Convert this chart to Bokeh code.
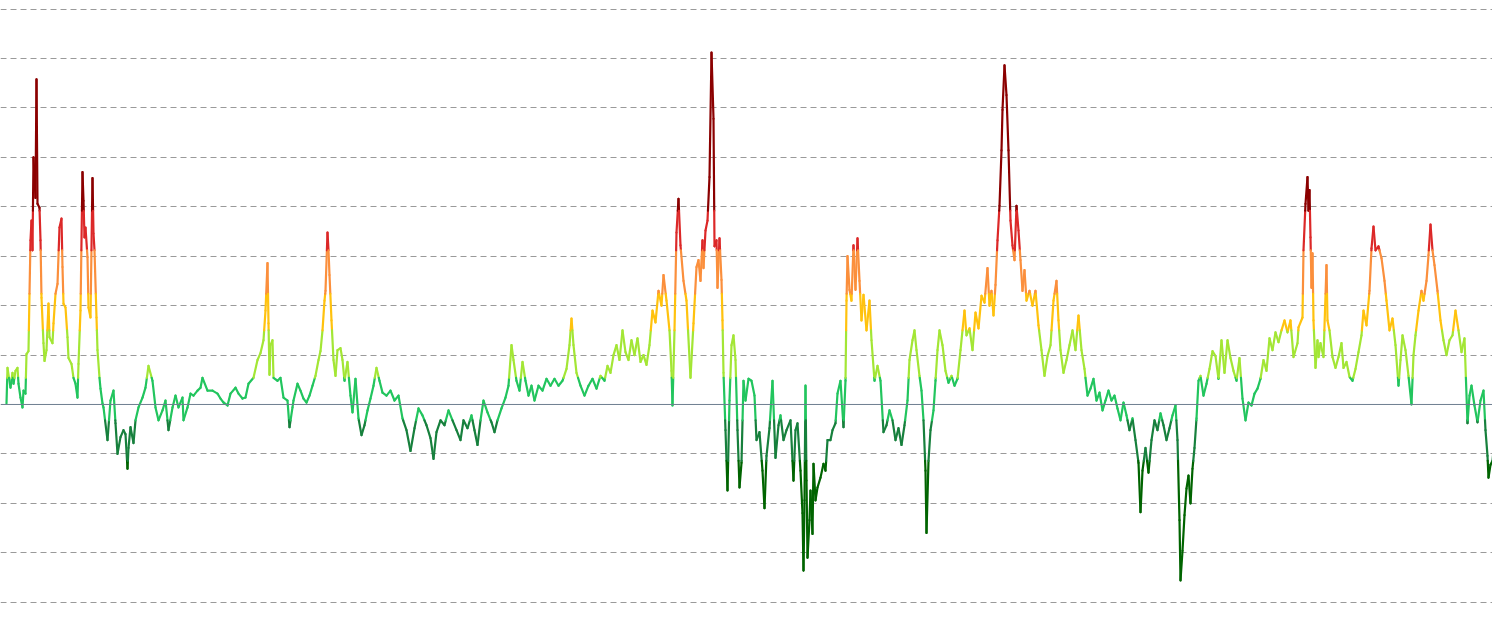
from bokeh.plotting import figure
from bokeh.models import Range1d, FixedTicker, Span, ColumnDataSource
from bokeh.embed import file_html
from bokeh.resources import INLINE

# position index (time) and indicator values
t = [6,7,10,12,13,15,17,18,20,22,23,25,26,28,29,30,31,32,33,35,36,37,39,40,41,43,44,46,48,49,
     52,53,55,57,59,61,62,63,65,67,68,71,73,75,77,78,80,82,83,84,85,87,88,90,92,93,94,96,97,99,
     100,102,103,107,110,113,115,117,120,123,125,127,128,130,133,135,138,142,145,148,152,155,158,162,165,168,172,175,178,182,
     183,187,190,193,197,200,202,207,212,217,220,223,227,230,235,238,242,245,248,253,257,260,263,265,267,268,269,270,272,273,
     277,280,283,287,289,292,293,297,300,303,306,309,312,315,318,320,322,324,325,327,328,329,331,333,335,337,340,342,344,347,
     350,352,355,358,361,364,367,370,373,376,379,382,386,390,394,398,402,406,410,414,418,422,426,430,433,436,440,444,448,452,
     456,460,463,467,471,474,477,480,483,487,491,494,497,501,505,508,511,513,516,519,522,525,528,531,534,538,542,546,550,554,
     558,562,566,569,571,573,576,580,584,588,592,596,600,604,607,610,613,616,619,622,625,628,631,634,637,640,643,646,649,652,
     655,658,661,663,666,669,671,672,674,676,678,680,683,686,690,693,696,698,700,702,703,705,707,709,711,713,714,716,717,719,
     721,722,723,725,727,729,731,733,735,737,739,741,743,745,748,751,754,756,759,762,764,766,769,772,775,778,780,783,786,790,
     793,795,797,800,802,803,804,805,806,807,809,810,812,813,815,817,820,823,825,827,830,832,835,837,840,843,845,846,847,849,
     851,853,855,857,859,861,863,866,869,871,874,877,880,883,886,889,892,895,898,901,904,907,909,912,914,916,919,921,923,925,
     926,928,930,933,935,937,939,942,945,948,951,954,957,960,962,964,966,969,972,975,978,981,984,987,989,991,993,995,997,999,
     1001,1002,1004,1006,1008,1010,1012,1014,1016,1018,1020,1022,1024,1026,1029,1032,1035,1038,1041,1044,1047,1050,1053,1056,1058,1060,1063,1066,1069,1072,
     1075,1078,1081,1084,1087,1090,1093,1096,1099,1102,1105,1108,1111,1114,1117,1120,1123,1126,1129,1132,1135,1138,1140,1142,1145,1148,1151,1154,1157,1160,
     1163,1166,1169,1172,1175,1177,1179,1180,1182,1184,1186,1188,1190,1192,1194,1196,1198,1200,1203,1206,1209,1212,1215,1218,1221,1224,1227,1230,1233,1236,
     1239,1242,1245,1248,1251,1254,1257,1260,1263,1266,1269,1272,1275,1278,1281,1284,1287,1290,1293,1297,1298,1302,1303,1305,1307,1308,1309,1310,1311,1312,
     1313,1315,1317,1318,1320,1323,1326,1327,1329,1332,1335,1338,1341,1343,1346,1349,1352,1355,1358,1361,1363,1366,1369,1371,1373,1375,1378,1381,1384,1386,
     1389,1392,1395,1398,1400,1402,1405,1408,1411,1413,1415,1418,1421,1423,1426,1428,1430,1432,1434,1437,1440,1443,1446,1449,1452,1455,1458,1461,1464,1467,
     1469,1471,1474,1477,1480,1483,1485,1487,1488,1490,1492,1493]

vals = [1,37,17,32,21,34,37,21,7,-3,14,11,51,54,112,166,186,156,250,209,329,203,199,166,108,62,44,55,102,68,
        62,82,112,122,179,188,139,102,98,68,47,41,27,21,7,41,95,235,206,169,179,149,98,88,229,173,156,88,55,27,
        16,1,-3,-36,4,14,-19,-50,-33,-26,-30,-65,-44,-23,-39,-16,-3,7,17,39,24,-3,-16,-6,4,-26,-3,9,-3,7,
        -16,-3,11,9,14,17,27,14,14,11,6,2,-1,11,17,11,6,7,21,27,45,52,65,95,143,82,30,60,65,27,
        24,27,7,4,-23,-3,4,21,14,6,2,9,19,29,45,54,75,105,115,174,156,131,85,45,29,55,57,45,24,43,
        9,-8,26,-14,-31,-21,-6,6,19,37,24,12,9,14,4,9,-14,-26,-47,-24,-4,-11,-21,-34,-55,-28,-16,-21,-6,-16,
        -26,-36,-16,-24,-11,-26,-41,-16,4,-8,-18,-28,-16,-4,7,19,60,45,24,14,43,24,9,19,4,19,14,26,19,26,
        19,24,36,60,87,60,32,19,9,19,26,16,29,24,39,32,50,60,45,75,53,45,65,50,67,43,50,40,60,95,
        83,115,100,131,105,75,34,-1,75,174,208,161,125,105,27,82,139,146,125,166,138,176,186,230,356,289,160,166,118,168,
        126,85,32,-26,-87,4,60,70,45,-26,-84,-59,24,4,26,24,9,-36,-28,-67,-105,-52,-24,24,-54,-21,-11,-36,-26,-16,
        -77,-26,-19,-67,-110,-168,-97,19,-77,-155,-117,-87,-131,-60,-97,-84,-74,-60,-67,-36,-36,-26,-19,11,24,-23,24,105,150,116,
        105,161,116,168,125,85,111,75,105,65,24,39,24,-28,-21,-6,-16,-36,-24,-41,-21,4,45,65,75,55,29,14,-16,-67,
        -130,-57,-26,-6,24,55,75,60,34,22,29,19,26,55,75,95,70,77,55,93,77,110,103,138,100,115,90,121,166,201,
        257,298,343,313,257,186,161,146,201,176,146,115,136,105,115,100,115,80,55,29,49,60,105,125,85,55,32,45,60,75,
        55,90,55,36,9,16,26,4,12,-6,4,14,4,9,-4,-16,2,-11,-26,-14,-36,-59,-109,-67,-44,-69,-36,-16,-26,-9,
        -21,-36,-24,-11,-1,-36,-117,-178,-148,-112,-85,-72,-100,-65,-44,-14,24,29,9,21,36,54,49,26,65,32,65,47,34,24,
        47,6,-16,2,-1,11,16,26,45,34,67,55,73,63,75,85,73,85,48,62,78,88,156,203,230,196,217,169,118,153,
        85,37,65,48,62,48,141,85,75,48,37,48,62,37,43,28,24,36,53,70,95,80,115,158,180,156,160,148,125,105,
        75,87,60,19,45,70,55,29,0,50,70,95,115,105,125,151,182,156,141,115,85,65,50,65,70,95,75,53,67,-19,
        9,19,-1,-18,4,14,-26,-52,-74,-61,-57,-47]

# colour bands (value thresholds) of the gradient line
thresholds = [-57, -16, 27, 75, 112, 156, 196]
band_colors = ["#006400", "#17803d", "#22c55e", "#a3e635", "#ffc20e", "#fb8f3c", "#dc2828", "#8b0000"]
grid_values = [-200, -150, -100, -50, 50, 100, 150, 200, 250, 300, 350, 400]


def band(v):
    i = 0
    for th in thresholds:
        if v >= th:
            i += 1
    return i


x0s, y0s, x1s, y1s, cols = [], [], [], [], []
for i in range(len(t) - 1):
    xa, ya, xb, yb = t[i], vals[i], t[i + 1], vals[i + 1]
    cuts = [0.0]
    lo, hi = min(ya, yb), max(ya, yb)
    for th in thresholds:
        if lo < th < hi:
            cuts.append((th - ya) / (yb - ya))
    cuts.append(1.0)
    cuts.sort()
    for a, b in zip(cuts[:-1], cuts[1:]):
        xs0, ys0 = xa + (xb - xa) * a, ya + (yb - ya) * a
        xs1, ys1 = xa + (xb - xa) * b, ya + (yb - ya) * b
        x0s.append(xs0); y0s.append(ys0); x1s.append(xs1); y1s.append(ys1)
        cols.append(band_colors[band((ys0 + ys1) / 2)])

src = ColumnDataSource(dict(x0=x0s, y0=y0s, x1=x1s, y1=y1s, c=cols))

p = figure(width=1492, height=625, output_backend="svg", toolbar_location=None,
           x_range=Range1d(0, 1492), y_range=Range1d(-223.6, 408.7),
           min_border=0, min_border_left=0, min_border_right=0,
           min_border_top=0, min_border_bottom=0)
p.outline_line_color = None
p.background_fill_color = "white"
p.xaxis.visible = False
p.yaxis.visible = False
p.xgrid.visible = False
p.ygrid.ticker = FixedTicker(ticks=grid_values)
p.ygrid.grid_line_color = "#9a9a9a"
p.ygrid.grid_line_dash = "6 4"
p.ygrid.grid_line_width = 1

p.add_layout(Span(location=0, dimension="width", line_color="#6f7f90", line_width=1))

p.segment(x0="x0", y0="y0", x1="x1", y1="y1", color="c", line_width=2.2,
          line_cap="round", source=src)

open("out.html", "w").write(file_html(p, INLINE))
